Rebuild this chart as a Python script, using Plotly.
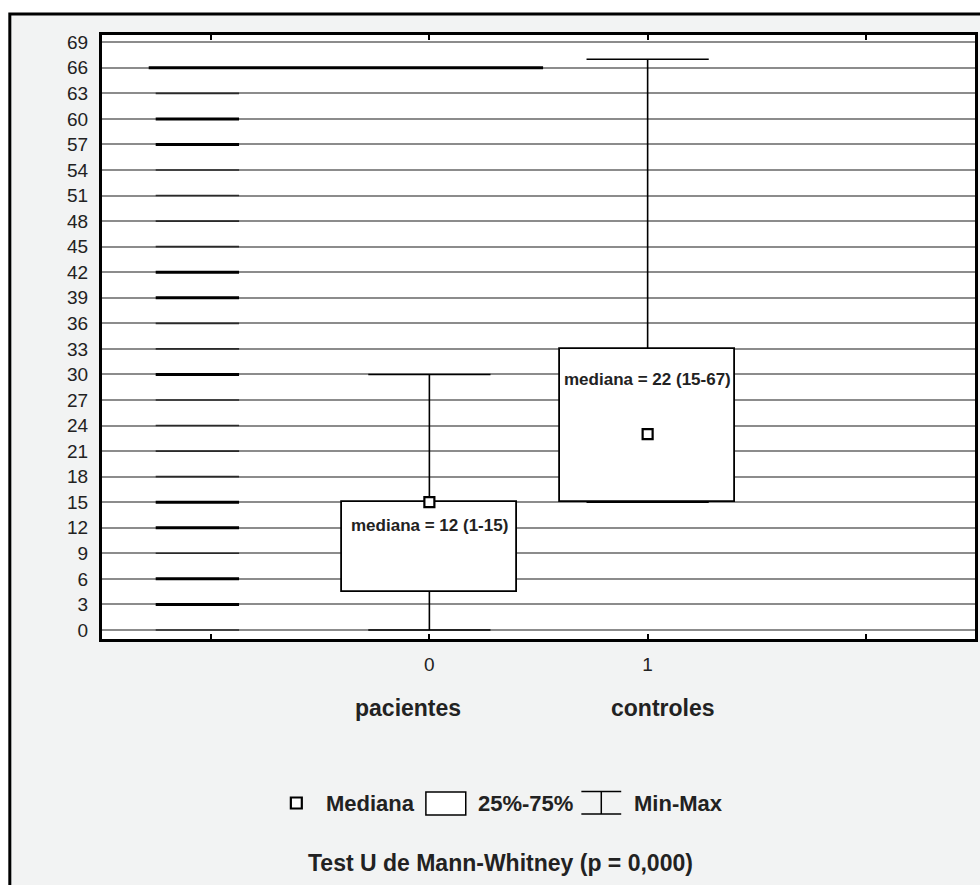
import plotly.graph_objects as go

# ---------------- data ----------------
categories = [0, 1]
category_names = ["pacientes", "controles"]
q1_values = [4.5, 15]
q3_values = [15, 33]
median_marks = [15, 23]
min_values = [0, 15]
max_values = [30, 67]
median_texts = ["mediana = 12 (1-15)", "mediana = 22 (15-67)"]
median_text_y = [12.3, 29.4]
y_ticks = list(range(0, 70, 3))
x_ticks = [-1, 0, 1, 2]
x_tick_labels = ["", "0", "1", ""]
# dark scan-artefact segments over the grid (left side)
seg_levels_thick = [3, 6, 12, 15, 30, 39, 42, 57, 60]
seg_levels_thin = [0, 9, 18, 21, 24, 27, 33, 36, 45, 48, 51, 54, 63]
seg_x = [-1.254, -0.872]
long_level = 66
long_x = [-1.286, 0.521]

BOX_HALF = 0.4
CAP_HALF = 0.28
FONT = "Liberation Sans, Arial, sans-serif"

W, H = 980, 885
L, R, T, B = 102, 2, 35, 246
PW, PH = W - L - R, H - T - B


def px(x):
    return (x - L) / PW


def py(y):
    return (H - B - y) / PH


fig = go.Figure()


def segs(levels, xs):
    X, Y = [], []
    for lv in levels:
        X += [xs[0], xs[1], None]
        Y += [lv, lv, None]
    return X, Y


sx, sy = segs(seg_levels_thin, seg_x)
fig.add_trace(go.Scatter(x=sx, y=sy, mode="lines", line=dict(color="#2a2a2a", width=1.6),
                         hoverinfo="skip", showlegend=False))
sx, sy = segs(seg_levels_thick, seg_x)
fig.add_trace(go.Scatter(x=sx, y=sy, mode="lines", line=dict(color="#000000", width=3),
                         hoverinfo="skip", showlegend=False))
sx, sy = segs([long_level], long_x)
fig.add_trace(go.Scatter(x=sx, y=sy, mode="lines", line=dict(color="#000000", width=3),
                         hoverinfo="skip", showlegend=False))

# boxes (25%-75%)
fig.add_trace(go.Bar(
    x=categories,
    y=[q3 - q1 for q1, q3 in zip(q1_values, q3_values)],
    base=q1_values,
    width=2 * BOX_HALF,
    marker=dict(color="white", line=dict(color="black", width=1.8)),
    hoverinfo="skip", showlegend=False,
))

# whiskers + caps
wx, wy = [], []
for c, lo, q1, q3, hi in zip(categories, min_values, q1_values, q3_values, max_values):
    wx += [c, c, None, c, c, None]
    wy += [lo, q1, None, q3, hi, None]
    wx += [c - CAP_HALF, c + CAP_HALF, None, c - CAP_HALF, c + CAP_HALF, None]
    wy += [lo, lo, None, hi, hi, None]
fig.add_trace(go.Scatter(x=wx, y=wy, mode="lines", line=dict(color="black", width=1.6),
                         hoverinfo="skip", showlegend=False))

# median markers
fig.add_trace(go.Scatter(
    x=categories, y=median_marks, mode="markers",
    marker=dict(symbol="square", size=10, color="white", line=dict(color="black", width=2.2)),
    hoverinfo="skip", showlegend=False,
))

annotations = []
for c, t, ty in zip(categories, median_texts, median_text_y):
    annotations.append(dict(x=c, y=ty, xref="x", yref="y", text="<b>" + t + "</b>",
                            showarrow=False, xanchor="center", yanchor="middle",
                            font=dict(family=FONT, size=17, color="#222")))

cat_label_x = [-0.096, 1.07]
for cx, name in zip(cat_label_x, category_names):
    annotations.append(dict(x=cx, y=py(708), xref="x", yref="paper", text="<b>" + name + "</b>",
                            showarrow=False, xanchor="center", yanchor="middle",
                            font=dict(family=FONT, size=23, color="#222")))

# legend texts
for lx, t in [(325, "Mediana"), (477, "25%-75%"), (634, "Min-Max")]:
    annotations.append(dict(x=px(lx), y=py(803), xref="paper", yref="paper", xanchor="left",
                            yanchor="middle", text="<b>" + t + "</b>", showarrow=False,
                            font=dict(family=FONT, size=22, color="#222")))
annotations.append(dict(x=px(502), y=py(863), xref="paper", yref="paper", xanchor="center",
                        yanchor="middle",
                        text="<b>Test U de Mann-Whitney (p = 0,000)</b>", showarrow=False,
                        font=dict(family=FONT, size=23, color="#222")))

shapes = [
    dict(type="rect", xref="paper", yref="paper", x0=px(-5), x1=px(1000), y0=py(-5), y1=py(13),
         fillcolor="white", line=dict(width=0), layer="below"),
    dict(type="rect", xref="paper", yref="paper", x0=px(-5), x1=px(8), y0=py(-5), y1=py(900),
         fillcolor="white", line=dict(width=0), layer="below"),
    dict(type="rect", xref="paper", yref="paper", x0=px(9.5), x1=px(1000), y0=py(14), y1=py(900),
         fillcolor="rgba(0,0,0,0)", line=dict(color="black", width=3)),
    dict(type="rect", xref="paper", yref="paper", x0=px(291.5), x1=px(302.5), y0=py(797.5), y1=py(808.5),
         fillcolor="white", line=dict(color="black", width=2.2)),
    dict(type="rect", xref="paper", yref="paper", x0=px(427), x1=px(467), y0=py(792), y1=py(815),
         fillcolor="white", line=dict(color="black", width=1.5)),
    dict(type="line", xref="paper", yref="paper", x0=px(583), x1=px(623), y0=py(791.5), y1=py(791.5),
         line=dict(color="black", width=1.5)),
    dict(type="line", xref="paper", yref="paper", x0=px(583), x1=px(623), y0=py(814), y1=py(814),
         line=dict(color="black", width=1.5)),
    dict(type="line", xref="paper", yref="paper", x0=px(603), x1=px(603), y0=py(791.5), y1=py(814),
         line=dict(color="black", width=1.5)),
]

fig.update_layout(
    width=W, height=H,
    margin=dict(l=L, r=R, t=T, b=B),
    paper_bgcolor="#f2f3f3",
    plot_bgcolor="white",
    showlegend=False,
    bargap=0,
    annotations=annotations,
    shapes=shapes,
    font=dict(family=FONT, color="#222"),
)
fig.update_xaxes(
    range=[-1.5, 2.5], tickmode="array", tickvals=x_ticks, ticktext=x_tick_labels,
    showgrid=False, zeroline=False, showline=True, linecolor="black", linewidth=3,
    mirror="ticks", ticks="inside", ticklen=5, tickwidth=1.5, tickcolor="black",
    ticklabelstandoff=6,
    tickfont=dict(family=FONT, size=19, color="#222"),
)
fig.update_yaxes(
    range=[-1.06, 69.85], tickmode="array", tickvals=y_ticks,
    showgrid=True, gridcolor="#8c8c8c", gridwidth=1.5,
    zeroline=False, showline=True, linecolor="black", linewidth=3, mirror=True,
    ticks="", ticklabelstandoff=7,
    tickfont=dict(family=FONT, size=19, color="#222"),
)

fig.write_html(
    "out.html",
    config={"displayModeBar": False},
    post_script="document.body.style.margin='0';document.body.style.overflow='hidden';",
)
